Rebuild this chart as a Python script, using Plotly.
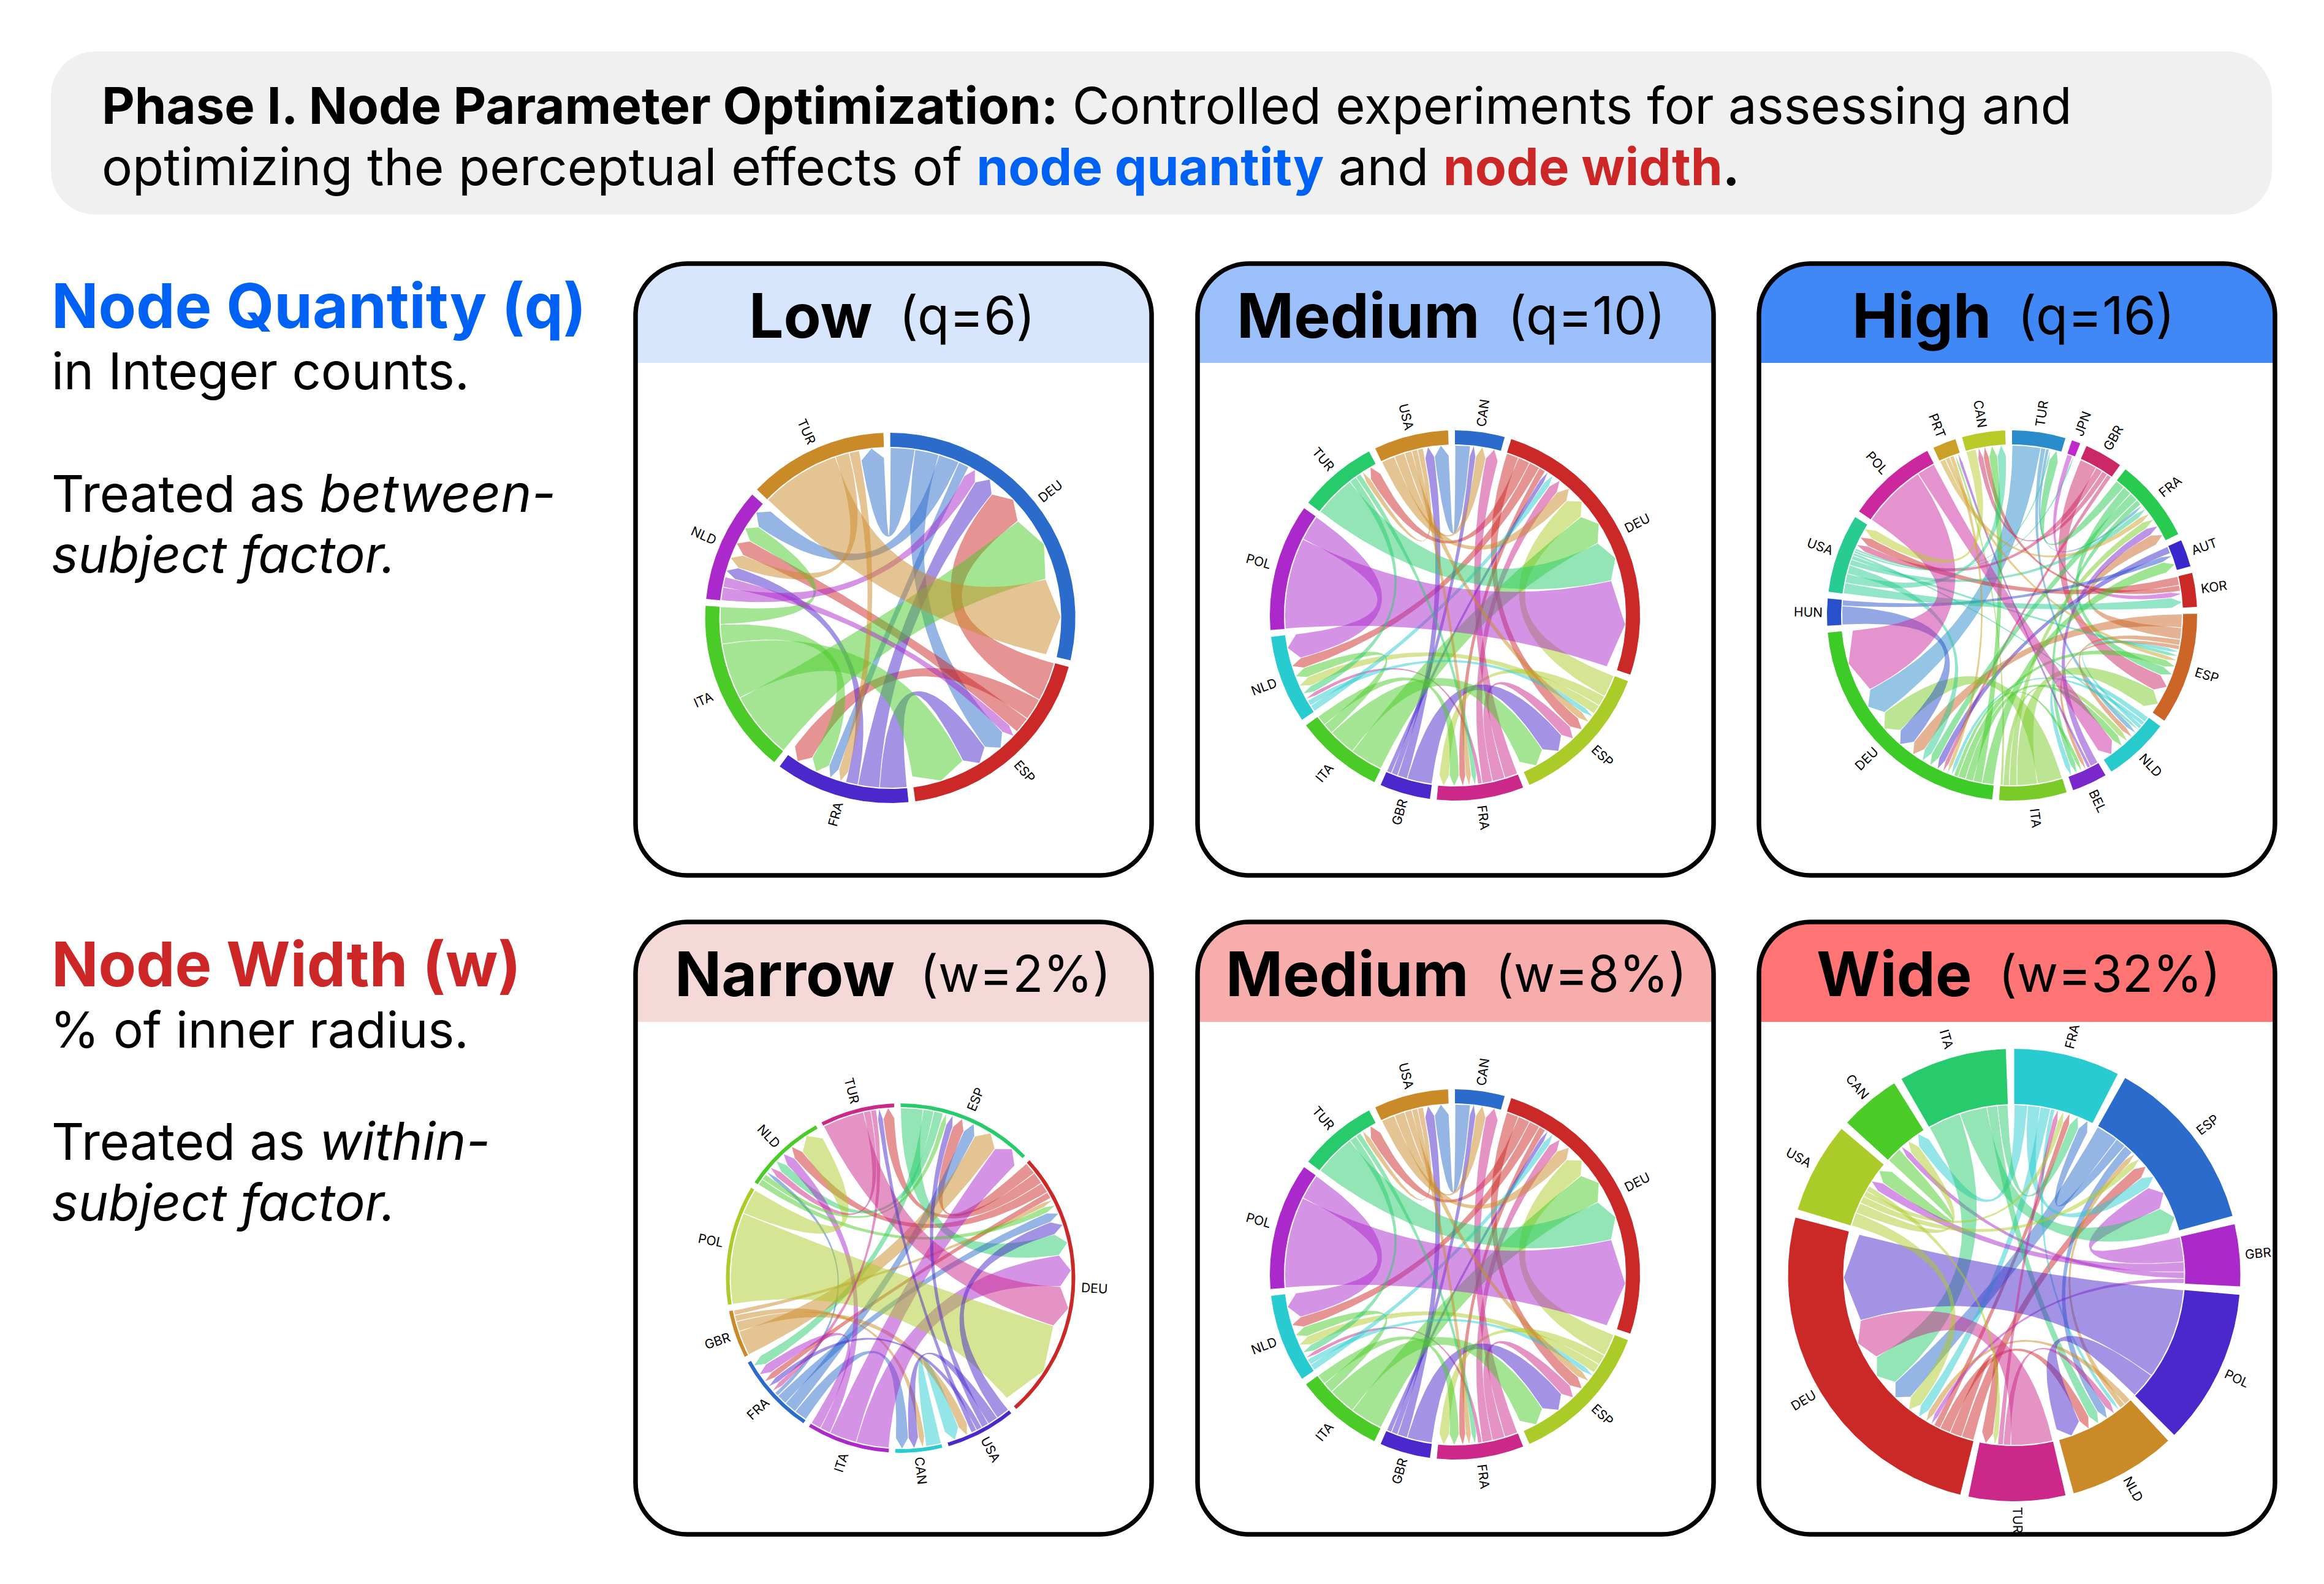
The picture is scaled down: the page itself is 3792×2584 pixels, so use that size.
import math
import plotly.graph_objects as go

# ---------- data: flows in degrees of arc ----------
LOW_ORDER = ["DEU", "ESP", "FRA", "ITA", "NLD", "TUR"]
LOW_FLOWS = [
    ("DEU", "TUR", 8.3), ("DEU", "ESP", 8.2), ("DEU", "NLD", 7.1), ("DEU", "FRA", 3.7),
    ("ESP", "DEU", 13.3), ("ESP", "FRA", 7.5), ("ESP", "NLD", 5.6),
    ("FRA", "ESP", 9.2), ("FRA", "DEU", 7.3), ("FRA", "NLD", 4.2),
    ("ITA", "DEU", 23.0), ("ITA", "ESP", 19.0), ("ITA", "FRA", 6.6), ("ITA", "NLD", 5.9),
    ("NLD", "DEU", 4.5), ("NLD", "ESP", 3.5),
    ("TUR", "DEU", 27.0), ("TUR", "NLD", 4.8), ("TUR", "FRA", 3.5),
]

MID_ORDER = ["CAN", "DEU", "ESP", "FRA", "GBR", "ITA", "NLD", "POL", "TUR", "USA"]
NARROW_ORDER = ["ESP", "DEU", "USA", "CAN", "ITA", "FRA", "GBR", "POL", "NLD", "TUR"]
WIDE_ORDER = ["FRA", "ESP", "GBR", "POL", "NLD", "TUR", "DEU", "USA", "CAN", "ITA"]
MID_FLOWS = [
    ("CAN", "USA", 5.2),
    ("DEU", "TUR", 4.1), ("DEU", "ESP", 4.2), ("DEU", "NLD", 3.7), ("DEU", "FRA", 2.3),
    ("ESP", "DEU", 7.6), ("ESP", "NLD", 3.2), ("ESP", "FRA", 3.6),
    ("FRA", "CAN", 4.5), ("FRA", "ESP", 4.3), ("FRA", "DEU", 3.5), ("FRA", "NLD", 1.5),
    ("GBR", "ESP", 8.5), ("GBR", "USA", 3.4), ("GBR", "CAN", 2.2), ("GBR", "DEU", 1.7),
    ("ITA", "DEU", 11.2), ("ITA", "ESP", 9.3), ("ITA", "NLD", 3.6), ("ITA", "FRA", 3.5),
    ("NLD", "DEU", 2.3), ("NLD", "ESP", 2.0),
    ("POL", "DEU", 31.0), ("POL", "NLD", 8.7),
    ("TUR", "DEU", 14.2), ("TUR", "NLD", 2.5), ("TUR", "FRA", 1.9),
    ("USA", "DEU", 4.6), ("USA", "CAN", 3.6), ("USA", "ESP", 2.5), ("USA", "FRA", 2.0), ("USA", "TUR", 1.95),
]

HIGH_ORDER = ["TUR", "JPN", "GBR", "FRA", "AUT", "KOR", "ESP", "NLD", "BEL", "ITA",
              "DEU", "HUN", "USA", "POL", "PRT", "CAN"]
HIGH_FLOWS = [
    ("TUR", "DEU", 9.7), ("TUR", "NLD", 1.7), ("TUR", "FRA", 1.2),
    ("JPN", "KOR", 1.9),
    ("GBR", "ESP", 5.9), ("GBR", "USA", 2.4), ("GBR", "CAN", 2.0), ("GBR", "DEU", 1.6),
    ("FRA", "TUR", 3.3), ("FRA", "ESP", 3.1), ("FRA", "DEU", 3.0), ("FRA", "BEL", 2.0),
    ("AUT", "DEU", 2.5),
    ("KOR", "USA", 3.0), ("KOR", "CAN", 2.0),
    ("ESP", "DEU", 4.6), ("ESP", "FRA", 4.0), ("ESP", "NLD", 2.0), ("ESP", "BEL", 1.5),
    ("NLD", "BEL", 2.0), ("NLD", "DEU", 1.5), ("NLD", "ESP", 1.4),
    ("BEL", "FRA", 2.8), ("BEL", "PRT", 1.2),
    ("ITA", "DEU", 8.5), ("ITA", "ESP", 6.9), ("ITA", "FRA", 2.6), ("ITA", "NLD", 2.1), ("ITA", "PRT", 1.0),
    ("DEU", "AUT", 4.0), ("DEU", "ESP", 2.6), ("DEU", "CAN", 3.0), ("DEU", "NLD", 2.7), ("DEU", "BEL", 1.5),
    ("HUN", "DEU", 6.4), ("HUN", "AUT", 2.0),
    ("USA", "KOR", 3.7), ("USA", "CAN", 3.1), ("USA", "DEU", 3.0), ("USA", "ESP", 1.4),
    ("USA", "FRA", 2.0), ("USA", "NLD", 1.0), ("USA", "TUR", 0.8), ("USA", "JPN", 0.8),
    ("POL", "DEU", 22.1), ("POL", "NLD", 6.3),
    ("PRT", "FRA", 2.0), ("PRT", "ESP", 1.6), ("PRT", "DEU", 1.5),
    ("CAN", "USA", 3.4),
]

# ---------- palettes ----------
BLUE, RED, VIOLET, GREEN, PURPLE, TAN = "#2b6bcb", "#cb2828", "#4a28cb", "#4acb28", "#ab28cb", "#cb8a28"
CYAN, MINT, PINK, LIME = "#28cbd0", "#28cb6b", "#cb288a", "#abcb28"
LOW_COL = [BLUE, RED, VIOLET, GREEN, PURPLE, TAN]
MID_COL = [BLUE, RED, LIME, PINK, VIOLET, GREEN, CYAN, PURPLE, MINT, TAN]
NARROW_COL = [MINT, RED, VIOLET, CYAN, PURPLE, BLUE, TAN, LIME, GREEN, PINK]
WIDE_COL = [CYAN, BLUE, PURPLE, VIOLET, TAN, PINK, RED, LIME, GREEN, MINT]
HIGH_COL = ["#2b8ccb", "#c028cb", "#cb2866", "#28cb50", "#3a28cb", "#cb2828", "#cb6628", "#28cbcb",
            "#7a28cb", "#7acb28", "#3dcb28", "#2850cb", "#28cb90", "#cb28a0", "#cba028", "#b8cb28"]

# ---------- panel layout ----------
R_IN, HEAD, PAD, TRIM = 278.0, 17.0, 2.13, 0.13
PANELS = [
    dict(bold="Low", reg="(q=6)", rs=85, x0=1037, x1=1879, y0=430, y1=1428, yh=592, fill="#d7e6fd",
         bx=1424, rx=1467, c=(1452.6, 1008), ro=302, order=LOW_ORDER, flows=LOW_FLOWS, col=LOW_COL),
    dict(bold="Medium", reg="(q=10)", rs=85, x0=1954, x1=2796, y0=430, y1=1428, yh=592, fill="#9bc0fb",
         bx=2414, rx=2460, c=(2374, 1004), ro=302, order=MID_ORDER, flows=MID_FLOWS, col=MID_COL),
    dict(bold="High", reg="(q=16)", rs=85, x0=2870, x1=3712, y0=430, y1=1428, yh=592, fill="#4088f5",
         bx=3249, rx=3292, c=(3283, 1004), ro=302, order=HIGH_ORDER, flows=HIGH_FLOWS, col=HIGH_COL),
    dict(bold="Narrow", reg="(w=2%)", rs=82, x0=1037, x1=1879, y0=1504, y1=2503, yh=1667, fill="#f5d9d9",
         bx=1460, rx=1501, c=(1469.5, 2085), ro=285, order=NARROW_ORDER, flows=MID_FLOWS, col=NARROW_COL),
    dict(bold="Medium", reg="(w=8%)", rs=82, x0=1954, x1=2796, y0=1504, y1=2503, yh=1667, fill="#f8adad",
         bx=2396, rx=2440, c=(2374, 2079), ro=302, order=MID_ORDER, flows=MID_FLOWS, col=MID_COL),
    dict(bold="Wide", reg="(w=32%)", rs=82, x0=2870, x1=3712, y0=1504, y1=2503, yh=1667, fill="#ff7575",
         bx=3217, rx=3261, c=(3286.5, 2080), ro=369, order=WIDE_ORDER, flows=MID_FLOWS, col=WIDE_COL),
]


def rgba(hex_col, a):
    return "rgba(%d,%d,%d,%g)" % (int(hex_col[1:3], 16), int(hex_col[3:5], 16), int(hex_col[5:7], 16), a)


def pt(c, r, deg):
    a = math.radians(deg)
    return c[0] + r * math.sin(a), c[1] - r * math.cos(a)


def arc(c, r, a0, a1, n=None):
    n = n or max(3, int(abs(a1 - a0) * 1.5) + 2)
    return [pt(c, r, a0 + (a1 - a0) * i / (n - 1)) for i in range(n)]


def quad(p0, ctrl, p1, n=48):
    out = []
    for i in range(n + 1):
        t = i / n
        u = 1 - t
        out.append((u * u * p0[0] + 2 * u * t * ctrl[0] + t * t * p1[0],
                    u * u * p0[1] + 2 * u * t * ctrl[1] + t * t * p1[1]))
    return out


def chord_layout(order, flows):
    """Arc layout: each node lists outgoing flows (largest first), then incoming (smallest first)."""
    total = sum(v for _, _, v in flows) * 2
    k = (360 - PAD * len(order)) / total
    nodes, spans, a = {}, {}, 0.0
    for name in order:
        out = sorted([f for f in flows if f[0] == name], key=lambda f: -f[2])
        inc = sorted([f for f in flows if f[1] == name], key=lambda f: f[2])
        start = a
        for f in out:
            spans[(f, "s")] = (a, a + f[2] * k)
            a += f[2] * k
        for f in inc:
            spans[(f, "t")] = (a, a + f[2] * k)
            a += f[2] * k
        nodes[name] = (start, a)
        a += PAD
    return nodes, spans


def closed(xs_ys):
    xs = [p[0] for p in xs_ys] + [xs_ys[0][0]]
    ys = [p[1] for p in xs_ys] + [xs_ys[0][1]]
    return xs, ys


def rounded(x0, y0, x1, y1, r, bottom=True):
    k = r * 0.45
    s = f"M{x0},{y0 + r} C{x0},{y0 + k} {x0 + k},{y0} {x0 + r},{y0} L{x1 - r},{y0} C{x1 - k},{y0} {x1},{y0 + k} {x1},{y0 + r} "
    if bottom:
        s += f"L{x1},{y1 - r} C{x1},{y1 - k} {x1 - k},{y1} {x1 - r},{y1} L{x0 + r},{y1} C{x0 + k},{y1} {x0},{y1 - k} {x0},{y1 - r} Z"
    else:
        s += f"L{x1},{y1} L{x0},{y1} Z"
    return s


fig = go.Figure()
shapes, notes = [], []


def text(x, y, s, size, anchor="left", angle=0, family="Inter", color="#000000"):
    notes.append(dict(x=x, y=y, xref="x", yref="y", text=s, showarrow=False, xanchor=anchor, yanchor="middle",
                      textangle=angle, font=dict(family=family, size=size, color=color), borderpad=0, borderwidth=0))


IT = '<i><span style="font-size:85px">%s</span></i>'

# banner
shapes.append(dict(type="path", path=rounded(83, 84, 3707, 350, 72), fillcolor="#f0f0f0", line=dict(width=0), layer="below"))
text(166, 171, "<b>Phase I. Node Parameter Optimization:</b> Controlled experiments for assessing and", 83.1)
text(166, 271, 'optimizing the perceptual effects of <b><span style="color:#0062f5">node quantity</span></b> and '
               '<b><span style="color:#cc2626">node width</span></b><b>.</b>', 83.6)

# side text
text(84, 498, "<b>Node Quantity (q)</b>", 100.5, color="#0062f5")
text(84, 605, "in Integer counts.", 83)
text(84, 804, "Treated as " + IT % "between-", 83)
text(84, 904, "<i>subject factor.</i>", 82.8)
text(84, 1572, "<b>Node Width (w)</b>", 100.5, color="#cc2626")
text(82, 1679, "% of inner radius.", 81.5)
text(84, 1861, "Treated as " + IT % "within-", 83)
text(84, 1961, "<i>subject factor.</i>", 82.8)

for p in PANELS:
    shapes.append(dict(type="path", path=rounded(p["x0"], p["y0"], p["x1"], p["yh"], 84, bottom=False),
                       fillcolor=p["fill"], line=dict(width=0), layer="below"))
    shapes.append(dict(type="path", path=rounded(p["x0"], p["y0"], p["x1"], p["y1"], 84),
                       fillcolor="rgba(0,0,0,0)", line=dict(color="#000000", width=7.5), layer="above"))
    yt = (p["y0"] + p["yh"]) / 2 + 3
    text(p["bx"], yt, f"<b>{p['bold']}</b>", 100, anchor="right")
    text(p["rx"], yt, p["reg"], p["rs"], anchor="left")

    c, ro = p["c"], p["ro"]
    nodes, spans = chord_layout(p["order"], p["flows"])
    colour = dict(zip(p["order"], p["col"]))
    for f in p["flows"]:
        s0, s1 = spans[(f, "s")]
        t0, t1 = spans[(f, "t")]
        trim = min(TRIM, (s1 - s0) * 0.2)
        s0, s1, t0, t1 = s0 + trim, s1 - trim, t0 + trim, t1 - trim
        tip, sh = R_IN, R_IN - HEAD
        path = arc(c, R_IN - 1, s0, s1)
        path += quad(path[-1], c, pt(c, sh, t0))
        path += [pt(c, tip, (t0 + t1) / 2), pt(c, sh, t1)]
        path += quad(pt(c, sh, t1), c, pt(c, R_IN - 1, s0))
        xs, ys = closed(path)
        fig.add_trace(go.Scatter(x=xs, y=ys, mode="lines", fill="toself", fillcolor=rgba(colour[f[0]], 0.5),
                                 line=dict(width=0, color="rgba(0,0,0,0)"), hoverinfo="skip", showlegend=False))
    for name, (a0, a1) in nodes.items():
        path = arc(c, ro, a0, a1) + arc(c, R_IN + 1, a1, a0)
        xs, ys = closed(path)
        fig.add_trace(go.Scatter(x=xs, y=ys, mode="lines", fill="toself", fillcolor=colour[name],
                                 line=dict(width=0, color="rgba(0,0,0,0)"), hoverinfo="skip", showlegend=False))
        mid = (a0 + a1) / 2
        lx, ly = pt(c, ro + 31, mid)
        rot = mid - 90 if mid < 180 else mid - 270
        text(lx, ly, name, 21, anchor="center", angle=rot)

fig.update_layout(
    width=3792, height=2584, margin=dict(l=0, r=0, t=0, b=0, pad=0),
    paper_bgcolor="#ffffff", plot_bgcolor="#ffffff", showlegend=False,
    xaxis=dict(range=[0, 3792], visible=False, fixedrange=True),
    yaxis=dict(range=[2584, 0], visible=False, fixedrange=True),
    shapes=shapes, annotations=notes,
)
fig.write_html("out.html", config=dict(displayModeBar=False),
               post_script="document.body.style.margin='0';document.body.style.overflow='hidden';")
